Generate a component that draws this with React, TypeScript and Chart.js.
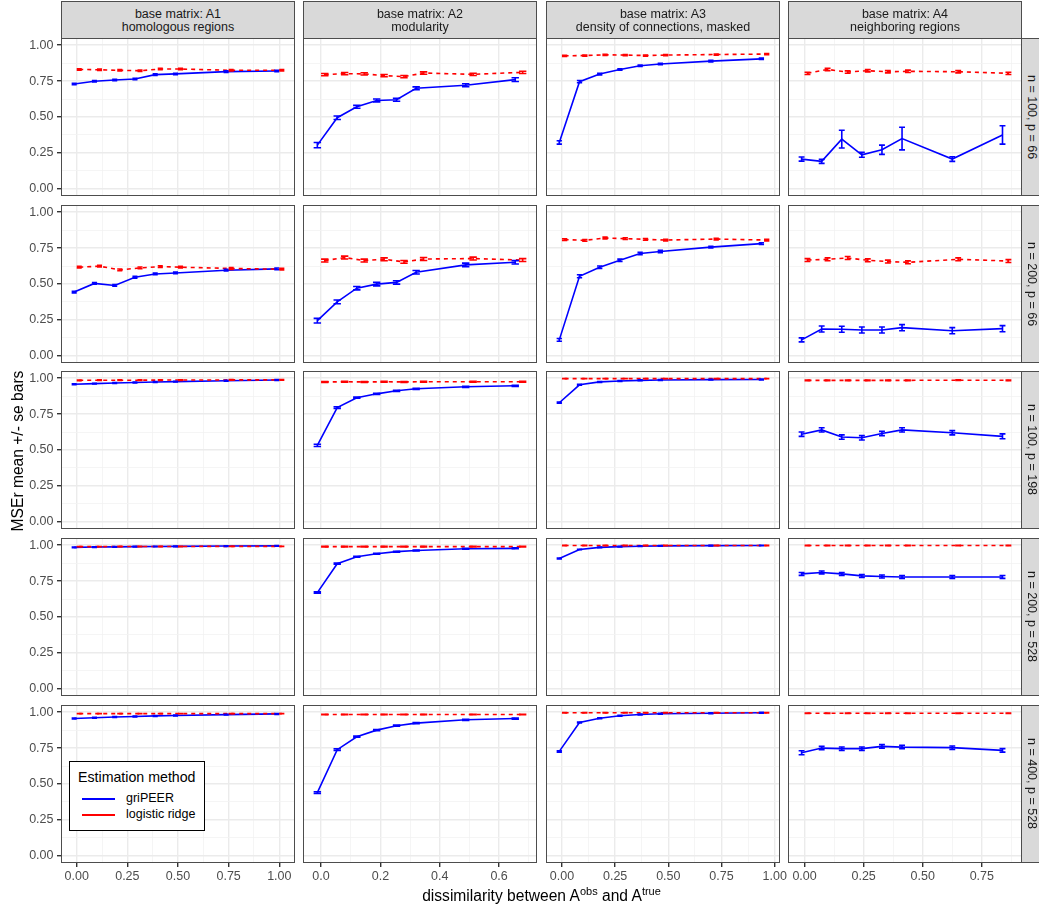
import React, { useEffect, useRef } from "react";
import { Chart, registerables } from "chart.js";

Chart.register(...registerables);

// ---------- data ----------
const METHODS = ["griPEER", "logistic ridge"];
const METHOD_COLORS = ["#0000FF", "#FF0000"];

const COLUMN_TITLES = [
  ["base matrix: A1", "homologous regions"],
  ["base matrix: A2", "modularity"],
  ["base matrix: A3", "density of connections, masked"],
  ["base matrix: A4", "neighboring regions"],
];
const ROW_LABELS = [
  "n = 100, p = 66",
  "n = 200, p = 66",
  "n = 100, p = 198",
  "n = 200, p = 528",
  "n = 400, p = 528",
];

// dissimilarity between A_obs and A_true, per base matrix
const X_A1 = [0, 0.1, 0.2, 0.3, 0.4, 0.5, 0.75, 1.0];
const X_A2 = [0, 0.067, 0.133, 0.2, 0.267, 0.333, 0.5, 0.667];
const X_A3 = [0, 0.095, 0.19, 0.285, 0.38, 0.475, 0.7125, 0.95];
const X_A4 = [0, 0.085, 0.17, 0.255, 0.34, 0.425, 0.6375, 0.85];
const X_VALUES = [X_A1, X_A2, X_A3, X_A4];

const X_TICKS_A1 = [0, 0.25, 0.5, 0.75, 1.0];
const X_TICKS_A2 = [0, 0.2, 0.4, 0.6];
const X_TICKS_A3 = [0, 0.25, 0.5, 0.75, 1.0];
const X_TICKS_A4 = [0, 0.25, 0.5, 0.75];
const X_TICKS = [X_TICKS_A1, X_TICKS_A2, X_TICKS_A3, X_TICKS_A4];
const X_TICK_LABELS = [
  ["0.00", "0.25", "0.50", "0.75", "1.00"],
  ["0.0", "0.2", "0.4", "0.6"],
  ["0.00", "0.25", "0.50", "0.75", "1.00"],
  ["0.00", "0.25", "0.50", "0.75"],
];
const Y_TICKS = [0, 0.25, 0.5, 0.75, 1.0];
const Y_TICK_LABELS = ["0.00", "0.25", "0.50", "0.75", "1.00"];

// griPEER MSEr mean, one array per row, columns A1..A4
const GRIPEER_MEAN_R1 = [
  [0.730, 0.749, 0.758, 0.765, 0.795, 0.800, 0.816, 0.820],
  [0.304, 0.495, 0.571, 0.615, 0.620, 0.700, 0.721, 0.760],
  [0.323, 0.746, 0.799, 0.831, 0.857, 0.869, 0.889, 0.905],
  [0.207, 0.191, 0.346, 0.237, 0.272, 0.350, 0.207, 0.375],
];
const GRIPEER_MEAN_R2 = [
  [0.444, 0.504, 0.490, 0.547, 0.570, 0.577, 0.596, 0.605],
  [0.245, 0.376, 0.471, 0.499, 0.511, 0.582, 0.633, 0.651],
  [0.111, 0.554, 0.617, 0.665, 0.712, 0.726, 0.757, 0.781],
  [0.111, 0.187, 0.185, 0.180, 0.180, 0.196, 0.175, 0.189],
];
const GRIPEER_MEAN_R3 = [
  [0.958, 0.962, 0.966, 0.970, 0.973, 0.976, 0.982, 0.987],
  [0.532, 0.795, 0.864, 0.891, 0.912, 0.926, 0.940, 0.947],
  [0.829, 0.954, 0.974, 0.980, 0.985, 0.987, 0.990, 0.991],
  [0.610, 0.640, 0.590, 0.585, 0.615, 0.640, 0.620, 0.595],
];
const GRIPEER_MEAN_R4 = [
  [0.985, 0.987, 0.988, 0.990, 0.991, 0.992, 0.994, 0.995],
  [0.670, 0.871, 0.920, 0.940, 0.955, 0.963, 0.975, 0.978],
  [0.907, 0.970, 0.985, 0.990, 0.993, 0.995, 0.997, 0.998],
  [0.800, 0.810, 0.800, 0.786, 0.782, 0.779, 0.779, 0.779],
];
const GRIPEER_MEAN_R5 = [
  [0.956, 0.961, 0.966, 0.970, 0.974, 0.977, 0.983, 0.988],
  [0.440, 0.739, 0.829, 0.875, 0.906, 0.924, 0.947, 0.956],
  [0.727, 0.928, 0.958, 0.975, 0.984, 0.989, 0.993, 0.996],
  [0.718, 0.750, 0.746, 0.746, 0.762, 0.757, 0.753, 0.734],
];

// griPEER standard errors
const GRIPEER_SE_R1 = [
  [0.005, 0.005, 0.005, 0.005, 0.005, 0.005, 0.005, 0.005],
  [0.018, 0.012, 0.010, 0.010, 0.010, 0.010, 0.010, 0.013],
  [0.012, 0.008, 0.006, 0.005, 0.005, 0.005, 0.005, 0.005],
  [0.014, 0.014, 0.062, 0.017, 0.032, 0.079, 0.016, 0.064],
];
const GRIPEER_SE_R2 = [
  [0.006, 0.006, 0.006, 0.006, 0.006, 0.006, 0.006, 0.006],
  [0.016, 0.013, 0.012, 0.012, 0.012, 0.012, 0.012, 0.012],
  [0.010, 0.010, 0.008, 0.008, 0.008, 0.008, 0.006, 0.006],
  [0.014, 0.021, 0.021, 0.021, 0.021, 0.021, 0.021, 0.021],
];
const GRIPEER_SE_R3 = [
  [0.003, 0.003, 0.003, 0.003, 0.003, 0.003, 0.003, 0.003],
  [0.008, 0.006, 0.004, 0.004, 0.004, 0.004, 0.004, 0.004],
  [0.004, 0.003, 0.003, 0.003, 0.003, 0.003, 0.003, 0.003],
  [0.015, 0.015, 0.015, 0.015, 0.015, 0.015, 0.015, 0.017],
];
const GRIPEER_SE_R4 = [
  [0.002, 0.002, 0.002, 0.002, 0.002, 0.002, 0.002, 0.002],
  [0.005, 0.004, 0.003, 0.003, 0.003, 0.003, 0.003, 0.003],
  [0.003, 0.002, 0.002, 0.002, 0.002, 0.002, 0.002, 0.002],
  [0.010, 0.010, 0.010, 0.010, 0.010, 0.010, 0.010, 0.010],
];
const GRIPEER_SE_R5 = [
  [0.003, 0.003, 0.003, 0.003, 0.003, 0.003, 0.003, 0.003],
  [0.006, 0.006, 0.004, 0.004, 0.004, 0.004, 0.004, 0.004],
  [0.005, 0.003, 0.003, 0.003, 0.003, 0.003, 0.003, 0.003],
  [0.014, 0.012, 0.012, 0.012, 0.012, 0.012, 0.012, 0.012],
];

// logistic ridge MSEr mean
const RIDGE_MEAN_R1 = [
  [0.831, 0.829, 0.825, 0.822, 0.834, 0.834, 0.825, 0.825],
  [0.795, 0.802, 0.800, 0.788, 0.781, 0.806, 0.797, 0.811],
  [0.926, 0.928, 0.933, 0.931, 0.928, 0.931, 0.935, 0.938],
  [0.804, 0.831, 0.813, 0.822, 0.815, 0.818, 0.815, 0.804],
];
const RIDGE_MEAN_R2 = [
  [0.617, 0.624, 0.598, 0.612, 0.621, 0.617, 0.608, 0.603],
  [0.663, 0.684, 0.663, 0.672, 0.654, 0.674, 0.677, 0.667],
  [0.809, 0.804, 0.820, 0.816, 0.811, 0.806, 0.813, 0.806],
  [0.667, 0.672, 0.681, 0.665, 0.656, 0.651, 0.672, 0.660],
];
const RIDGE_MEAN_R3 = [
  [0.985, 0.986, 0.986, 0.986, 0.987, 0.987, 0.988, 0.988],
  [0.974, 0.975, 0.974, 0.975, 0.974, 0.975, 0.975, 0.975],
  [0.997, 0.997, 0.997, 0.997, 0.997, 0.997, 0.997, 0.997],
  [0.985, 0.985, 0.985, 0.985, 0.985, 0.985, 0.986, 0.985],
];
const RIDGE_MEAN_R4 = [
  [0.990, 0.990, 0.991, 0.991, 0.991, 0.991, 0.992, 0.992],
  [0.990, 0.990, 0.990, 0.990, 0.990, 0.990, 0.990, 0.990],
  [0.998, 0.998, 0.998, 0.998, 0.998, 0.998, 0.998, 0.998],
  [0.998, 0.998, 0.998, 0.998, 0.998, 0.998, 0.998, 0.998],
];
const RIDGE_MEAN_R5 = [
  [0.990, 0.990, 0.990, 0.990, 0.990, 0.990, 0.990, 0.990],
  [0.984, 0.984, 0.984, 0.984, 0.984, 0.984, 0.984, 0.984],
  [0.996, 0.996, 0.996, 0.996, 0.996, 0.996, 0.996, 0.996],
  [0.993, 0.993, 0.993, 0.993, 0.993, 0.993, 0.993, 0.993],
];

// logistic ridge standard errors (one value per panel)
const RIDGE_SE_R1 = [0.005, 0.008, 0.004, 0.008];
const RIDGE_SE_R2 = [0.006, 0.010, 0.006, 0.010];
const RIDGE_SE_R3 = [0.002, 0.003, 0.001, 0.002];
const RIDGE_SE_R4 = [0.001, 0.002, 0.001, 0.001];
const RIDGE_SE_R5 = [0.001, 0.002, 0.001, 0.001];

const GRIPEER_MEAN = [GRIPEER_MEAN_R1, GRIPEER_MEAN_R2, GRIPEER_MEAN_R3, GRIPEER_MEAN_R4, GRIPEER_MEAN_R5];
const GRIPEER_SE = [GRIPEER_SE_R1, GRIPEER_SE_R2, GRIPEER_SE_R3, GRIPEER_SE_R4, GRIPEER_SE_R5];
const RIDGE_MEAN = [RIDGE_MEAN_R1, RIDGE_MEAN_R2, RIDGE_MEAN_R3, RIDGE_MEAN_R4, RIDGE_MEAN_R5];
const RIDGE_SE = [RIDGE_SE_R1, RIDGE_SE_R2, RIDGE_SE_R3, RIDGE_SE_R4, RIDGE_SE_R5];

// ---------- layout / style ----------
const W = 1039;
const H = 909;
const PANEL_LEFT = [61, 303, 546, 788];
const PANEL_TOP = [38, 205, 371, 538, 705];
const PANEL_W = 234;
const PANEL_H = 158;
const Y_AXIS_W = 61;
const X_AXIS_H = 28;
const SIDE = 16;
const DODGE = 0.0125;
const ERR_HALF = 0.0125;
const FONT = '"Liberation Sans", Arial, Helvetica, sans-serif';
const GRID = "#EBEBEB";
const GRID_MINOR = "#F2F2F2";
const AXIS_TEXT = "#4D4D4D";
const BORDER = "#4D4D4D";

function withMinor(majors: number[], lo: number, hi: number) {
  const step = majors[1] - majors[0];
  const all: number[] = [];
  for (let v = majors[0] - step; v <= majors[majors.length - 1] + step + 1e-9; v += step / 2) {
    const r = Math.round(v * 10000) / 10000;
    if (r >= lo && r <= hi) all.push(r);
  }
  return all;
}
function isMajor(v: number, majors: number[]) {
  return majors.some((m) => Math.abs(m - v) < 1e-6);
}

const errorBarPlugin = {
  id: "errorBars",
  afterDatasetsDraw(chart: any) {
    const { ctx, chartArea, scales } = chart;
    ctx.save();
    ctx.beginPath();
    ctx.rect(chartArea.left, chartArea.top, chartArea.right - chartArea.left, chartArea.bottom - chartArea.top);
    ctx.clip();
    chart.data.datasets.forEach((ds: any) => {
      if (!ds.se) return;
      ctx.strokeStyle = ds.borderColor;
      ctx.lineWidth = 1.6;
      ctx.setLineDash([]);
      ds.data.forEach((p: any, i: number) => {
        const x = scales.x.getPixelForValue(p.x);
        const hw = Math.abs(scales.x.getPixelForValue(p.x + ERR_HALF) - x);
        const y1 = scales.y.getPixelForValue(p.y - ds.se[i]);
        const y2 = scales.y.getPixelForValue(p.y + ds.se[i]);
        ctx.beginPath();
        ctx.moveTo(x, y1);
        ctx.lineTo(x, y2);
        ctx.moveTo(x - hw, y1);
        ctx.lineTo(x + hw, y1);
        ctx.moveTo(x - hw, y2);
        ctx.lineTo(x + hw, y2);
        ctx.stroke();
      });
    });
    ctx.restore();
  },
};

const borderPlugin = {
  id: "panelBorder",
  afterDraw(chart: any) {
    const { ctx, chartArea } = chart;
    ctx.save();
    ctx.strokeStyle = BORDER;
    ctx.lineWidth = 1;
    ctx.strokeRect(
      Math.round(chartArea.left) + 0.5,
      Math.round(chartArea.top) + 0.5,
      Math.round(chartArea.right - chartArea.left) - 1,
      Math.round(chartArea.bottom - chartArea.top) - 1
    );
    ctx.restore();
  },
};

type PanelSpec = { r: number; c: number; left: number; top: number; width: number; height: number };

const PANELS: PanelSpec[] = [];
for (let r = 0; r < 5; r++) {
  for (let c = 0; c < 4; c++) {
    const leftExtra = c === 0 ? Y_AXIS_W : SIDE;
    const left = PANEL_LEFT[c] - leftExtra;
    const width = PANEL_W + leftExtra + SIDE;
    const height = PANEL_H + (r === 4 ? X_AXIS_H : 0);
    PANELS.push({ r, c, left, top: PANEL_TOP[r], width, height });
  }
}

function makeConfig(p: PanelSpec): any {
  const { r, c } = p;
  const xs = X_VALUES[c];
  const lo = Math.min(...xs) - DODGE - ERR_HALF;
  const hi = Math.max(...xs) + DODGE + ERR_HALF;
  const pad = (hi - lo) * 0.05;
  const xMin = lo - pad;
  const xMax = hi + pad;
  const xMajors = X_TICKS[c];
  const xAll = withMinor(xMajors, xMin, xMax);
  const yAll = withMinor(Y_TICKS, -0.05, 1.05);
  const showX = r === 4;
  const showY = c === 0;

  const griData = xs.map((x, i) => ({ x: x - DODGE, y: GRIPEER_MEAN[r][c][i] }));
  const ridgeData = xs.map((x, i) => ({ x: x + DODGE, y: RIDGE_MEAN[r][c][i] }));

  const gridCfg = (majors: number[], show: boolean) => ({
    color: (ctx: any) => (isMajor(ctx.tick?.value, majors) ? GRID : GRID_MINOR),
    lineWidth: (ctx: any) => (isMajor(ctx.tick?.value, majors) ? 1.4 : 0.8),
    tickColor: (ctx: any) => (isMajor(ctx.tick?.value, majors) ? "#333333" : "rgba(0,0,0,0)"),
    tickLength: 4,
    drawTicks: show,
  });

  return {
    type: "line",
    data: {
      datasets: [
        {
          label: METHODS[0],
          data: griData,
          se: GRIPEER_SE[r][c],
          borderColor: METHOD_COLORS[0],
          backgroundColor: METHOD_COLORS[0],
          borderWidth: 1.6,
          pointRadius: 0,
          tension: 0,
          order: 1,
        },
        {
          label: METHODS[1],
          data: ridgeData,
          se: xs.map(() => RIDGE_SE[r][c]),
          borderColor: METHOD_COLORS[1],
          backgroundColor: METHOD_COLORS[1],
          borderWidth: 1.6,
          borderDash: [4, 4],
          pointRadius: 0,
          tension: 0,
          order: 0,
        },
      ],
    },
    options: {
      animation: false,
      responsive: false,
      maintainAspectRatio: false,
      events: [],
      layout: { padding: { left: c === 0 ? 0 : SIDE, right: SIDE, top: 0, bottom: 0 } },
      plugins: { legend: { display: false }, tooltip: { enabled: false } },
      scales: {
        x: {
          type: "linear",
          min: xMin,
          max: xMax,
          border: { display: false },
          grid: gridCfg(xMajors, showX),
          afterBuildTicks: (scale: any) => {
            scale.ticks = xAll.map((v) => ({ value: v }));
          },
          afterFit: (scale: any) => {
            scale.height = showX ? X_AXIS_H : 0;
            scale.paddingLeft = 0;
            scale.paddingRight = 0;
            scale.paddingTop = 0;
            scale.paddingBottom = 0;
          },
          ticks: {
            display: showX,
            autoSkip: false,
            maxRotation: 0,
            minRotation: 0,
            padding: 2,
            color: AXIS_TEXT,
            font: { family: FONT, size: 12.5 },
            callback: (v: any) => {
              const i = xMajors.findIndex((m) => Math.abs(m - v) < 1e-6);
              return i >= 0 ? X_TICK_LABELS[c][i] : "";
            },
          },
        },
        y: {
          type: "linear",
          min: -0.05,
          max: 1.05,
          border: { display: false },
          grid: gridCfg(Y_TICKS, showY),
          afterBuildTicks: (scale: any) => {
            scale.ticks = yAll.map((v) => ({ value: v }));
          },
          afterFit: (scale: any) => {
            scale.width = showY ? Y_AXIS_W : 0;
            scale.paddingLeft = 0;
            scale.paddingRight = 0;
            scale.paddingTop = 0;
            scale.paddingBottom = 0;
          },
          ticks: {
            display: showY,
            autoSkip: false,
            padding: 3.5,
            color: AXIS_TEXT,
            font: { family: FONT, size: 12.5 },
            callback: (v: any) => {
              const i = Y_TICKS.findIndex((m) => Math.abs(m - v) < 1e-6);
              return i >= 0 ? Y_TICK_LABELS[i] : "";
            },
          },
        },
      },
    },
    plugins: [errorBarPlugin, borderPlugin],
  };
}

export default function App() {
  const refs = useRef<(HTMLCanvasElement | null)[]>([]);

  useEffect(() => {
    const charts = PANELS.map((p, i) => {
      const cv = refs.current[i];
      if (!cv) return null;
      return new Chart(cv, makeConfig(p));
    });
    return () => {
      charts.forEach((ch) => ch && ch.destroy());
    };
  }, []);

  return (
    <div
      style={{
        position: "absolute",
        left: 0,
        top: 0,
        width: W,
        height: H,
        overflow: "hidden",
        background: "#FFFFFF",
        fontFamily: FONT,
      }}
    >
      {PANELS.map((p, i) => (
        <canvas
          key={i}
          ref={(el) => {
            refs.current[i] = el;
          }}
          width={p.width}
          height={p.height}
          style={{ position: "absolute", left: p.left, top: p.top, width: p.width, height: p.height }}
        />
      ))}

      {COLUMN_TITLES.map((t, c) => (
        <div
          key={"cs" + c}
          style={{
            position: "absolute",
            left: PANEL_LEFT[c],
            top: 1,
            width: PANEL_W,
            height: 38,
            boxSizing: "border-box",
            border: "1px solid " + BORDER,
            background: "#D9D9D9",
            color: "#1A1A1A",
            fontSize: 12.5,
            lineHeight: "12.7px",
            display: "flex",
            flexDirection: "column",
            justifyContent: "center",
            alignItems: "center",
            textAlign: "center",
            paddingTop: 1,
            zIndex: 2,
          }}
        >
          <div>{t[0]}</div>
          <div>{t[1]}</div>
        </div>
      ))}

      {ROW_LABELS.map((t, r) => (
        <div
          key={"rs" + r}
          style={{
            position: "absolute",
            left: PANEL_LEFT[3] + PANEL_W - 1,
            top: PANEL_TOP[r],
            width: 22,
            height: PANEL_H,
            boxSizing: "border-box",
            border: "1px solid " + BORDER,
            background: "#D9D9D9",
            color: "#1A1A1A",
            fontSize: 12.5,
            display: "flex",
            justifyContent: "center",
            alignItems: "center",
            zIndex: 2,
          }}
        >
          <div style={{ writingMode: "vertical-rl", whiteSpace: "nowrap" }}>{t}</div>
        </div>
      ))}

      <div
        style={{
          position: "absolute",
          left: 18 - 150,
          top: 450.5 - 10,
          width: 300,
          height: 20,
          lineHeight: "20px",
          textAlign: "center",
          fontSize: 15.6,
          color: "#000",
          transform: "rotate(-90deg)",
          whiteSpace: "nowrap",
        }}
      >
        MSEr mean +/- se bars
      </div>

      <div
        style={{
          position: "absolute",
          left: 541.5 - 250,
          top: 886,
          width: 500,
          height: 20,
          lineHeight: "20px",
          textAlign: "center",
          fontSize: 15.6,
          color: "#000",
          whiteSpace: "nowrap",
        }}
      >
        dissimilarity between A
        <sup style={{ fontSize: 11, verticalAlign: 0, position: "relative", top: -6 }}>obs</sup> and A
        <sup style={{ fontSize: 11, verticalAlign: 0, position: "relative", top: -6 }}>true</sup>
      </div>

      <div
        style={{
          position: "absolute",
          left: 69,
          top: 761,
          width: 136,
          height: 70,
          boxSizing: "border-box",
          border: "1px solid #000",
          background: "#FFFFFF",
          zIndex: 3,
        }}
      >
        <div style={{ position: "absolute", left: 8, top: 6, fontSize: 14.2, lineHeight: "18px", color: "#000", whiteSpace: "nowrap" }}>
          Estimation method
        </div>
        {METHODS.map((m, i) => (
          <React.Fragment key={m}>
            <div
              style={{
                position: "absolute",
                left: 12,
                top: 35.5 + i * 16.3,
                width: 33,
                height: 2,
                background: METHOD_COLORS[i],
              }}
            />
            <div
              style={{
                position: "absolute",
                left: 56,
                top: 28 + i * 16.3,
                fontSize: 12.5,
                lineHeight: "16px",
                color: "#000",
                whiteSpace: "nowrap",
              }}
            >
              {m}
            </div>
          </React.Fragment>
        ))}
      </div>
    </div>
  );
}
